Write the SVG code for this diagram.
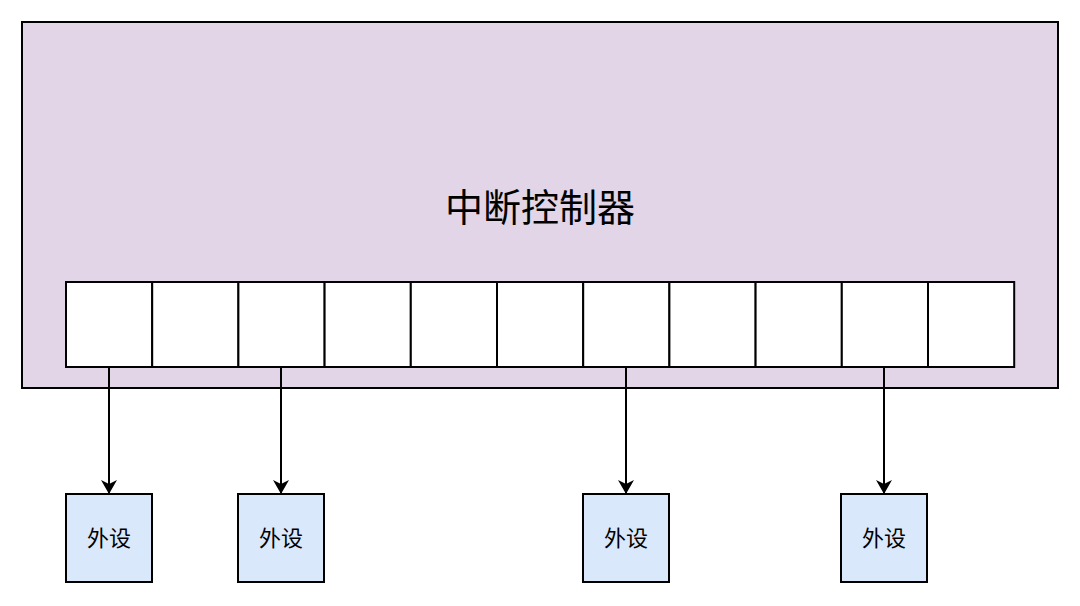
<svg xmlns="http://www.w3.org/2000/svg" width="1080" height="606" viewBox="0 0 1080 606">
<style>
text{font-family:"Liberation Sans","Noto Sans CJK SC",sans-serif;fill:#000;text-anchor:middle}
.cell{fill:#fff;stroke:#000;stroke-width:2}
.dev{fill:#dae8fc;stroke:#000;stroke-width:2}
.c{stroke:#000;stroke-width:2;fill:none;marker-end:url(#a)}
</style>
<defs><marker id="a" markerWidth="14" markerHeight="16" refX="13" refY="8" orient="auto" markerUnits="userSpaceOnUse"><path d="M0,0 L14,8 L0,16 L4,8 Z" fill="#000"/></marker></defs>
<g id="controller">
<rect x="22" y="22" width="1036" height="366" fill="#e1d5e7" stroke="#000" stroke-width="2"/>
<text x="540" y="221" font-size="38">中断控制器</text>
</g>
<g id="cells">
<rect class="cell" x="66" y="282" width="86.2" height="85"/>
<rect class="cell" x="152.2" y="282" width="86.2" height="85"/>
<rect class="cell" x="238.4" y="282" width="86.2" height="85"/>
<rect class="cell" x="324.6" y="282" width="86.2" height="85"/>
<rect class="cell" x="410.8" y="282" width="86.2" height="85"/>
<rect class="cell" x="497" y="282" width="86.2" height="85"/>
<rect class="cell" x="583.2" y="282" width="86.2" height="85"/>
<rect class="cell" x="669.4" y="282" width="86.2" height="85"/>
<rect class="cell" x="755.6" y="282" width="86.2" height="85"/>
<rect class="cell" x="841.8" y="282" width="86.2" height="85"/>
<rect class="cell" x="928" y="282" width="86.2" height="85"/>
</g>
<g id="connectors">
<path class="c" d="M109,367 V493"/>
<path class="c" d="M281,367 V493"/>
<path class="c" d="M626,367 V493"/>
<path class="c" d="M884,367 V493"/>
</g>
<g id="dev1"><rect class="dev" x="66" y="494" width="86" height="88"/><text x="109" y="546" font-size="22">外设</text></g>
<g id="dev2"><rect class="dev" x="238" y="494" width="86" height="88"/><text x="281" y="546" font-size="22">外设</text></g>
<g id="dev3"><rect class="dev" x="583" y="494" width="86" height="88"/><text x="626" y="546" font-size="22">外设</text></g>
<g id="dev4"><rect class="dev" x="841" y="494" width="86" height="88"/><text x="884" y="546" font-size="22">外设</text></g>
</svg>
